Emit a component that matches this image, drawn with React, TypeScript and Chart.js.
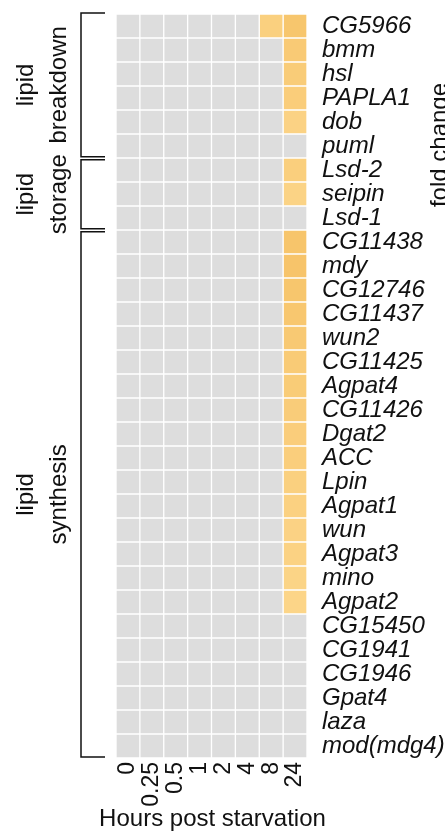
import { useEffect, useRef } from 'react';
import { Chart, registerables } from 'chart.js';

Chart.register(...registerables);

const genes = [
  'CG5966', 'bmm', 'hsl', 'PAPLA1', 'dob', 'puml',
  'Lsd-2', 'seipin', 'Lsd-1',
  'CG11438', 'mdy', 'CG12746', 'CG11437', 'wun2', 'CG11425', 'Agpat4', 'CG11426',
  'Dgat2', 'ACC', 'Lpin', 'Agpat1', 'wun', 'Agpat3', 'mino', 'Agpat2',
  'CG15450', 'CG1941', 'CG1946', 'Gpat4', 'laza', 'mod(mdg4)',
];

const hours = ['0', '0.25', '0.5', '1', '2', '4', '8', '24'];

// log2 fold change per time point (0 = no significant change, drawn grey)
const fc0h = [0, 0, 0, 0, 0, 0, 0, 0, 0, 0, 0, 0, 0, 0, 0, 0, 0, 0, 0, 0, 0, 0, 0, 0, 0, 0, 0, 0, 0, 0, 0];
const fc025h = [0, 0, 0, 0, 0, 0, 0, 0, 0, 0, 0, 0, 0, 0, 0, 0, 0, 0, 0, 0, 0, 0, 0, 0, 0, 0, 0, 0, 0, 0, 0];
const fc05h = [0, 0, 0, 0, 0, 0, 0, 0, 0, 0, 0, 0, 0, 0, 0, 0, 0, 0, 0, 0, 0, 0, 0, 0, 0, 0, 0, 0, 0, 0, 0];
const fc1h = [0, 0, 0, 0, 0, 0, 0, 0, 0, 0, 0, 0, 0, 0, 0, 0, 0, 0, 0, 0, 0, 0, 0, 0, 0, 0, 0, 0, 0, 0, 0];
const fc2h = [0, 0, 0, 0, 0, 0, 0, 0, 0, 0, 0, 0, 0, 0, 0, 0, 0, 0, 0, 0, 0, 0, 0, 0, 0, 0, 0, 0, 0, 0, 0];
const fc4h = [0, 0, 0, 0, 0, 0, 0, 0, 0, 0, 0, 0, 0, 0, 0, 0, 0, 0, 0, 0, 0, 0, 0, 0, 0, 0, 0, 0, 0, 0, 0];
const fc8h = [1.2, 0, 0, 0, 0, 0, 0, 0, 0, 0, 0, 0, 0, 0, 0, 0, 0, 0, 0, 0, 0, 0, 0, 0, 0, 0, 0, 0, 0, 0, 0];
const fc24h = [
  1.55, 1.4, 1.33, 1.3, 1.12, 0,
  1.25, 1.1, 0,
  1.58, 1.6, 1.55, 1.5, 1.44, 1.38, 1.35, 1.32,
  1.29, 1.26, 1.2, 1.16, 1.12, 1.14, 1.08, 1.03,
  0, 0, 0, 0, 0, 0,
];

const foldByHour = [fc0h, fc025h, fc05h, fc1h, fc2h, fc4h, fc8h, fc24h];

const groups = [
  { lines: ['lipid', 'breakdown'], first: 0, last: 5 },
  { lines: ['lipid', 'storage'], first: 6, last: 8 },
  { lines: ['lipid', 'synthesis'], first: 9, last: 30 },
];

const xTitle = 'Hours post starvation';
const legendTitle = 'fold change';

const FONT = '"Liberation Sans", Arial, Helvetica, sans-serif';
const GREY = '#dddddd';
const LOW = [252, 214, 138];
const HIGH = [247, 196, 106];

function cellColor(v: number): string {
  if (!v) return GREY;
  const t = Math.max(0, Math.min(1, (v - 1.0) / 0.6));
  const c = LOW.map((l, i) => Math.round(l + (HIGH[i] - l) * t));
  return `rgb(${c[0]},${c[1]},${c[2]})`;
}

const annotate = {
  id: 'annotate',
  afterDraw(chart: any) {
    const { ctx, chartArea } = chart;
    const y = chart.scales.y;
    const lineX = chartArea.left - 35;
    const tickX = chartArea.left - 11;
    ctx.save();
    ctx.strokeStyle = '#111111';
    ctx.lineWidth = 1.5;
    ctx.fillStyle = '#111111';
    ctx.font = `24px ${FONT}`;
    ctx.textAlign = 'center';
    ctx.textBaseline = 'middle';
    groups.forEach((g, gi) => {
      const top = y.getPixelForValue(g.first - 0.5) + (gi === 0 ? -1 : 1.75);
      const bot = y.getPixelForValue(g.last + 0.5) - (gi === groups.length - 1 ? 1 : 1.25);
      ctx.beginPath();
      ctx.moveTo(tickX, top);
      ctx.lineTo(lineX, top);
      ctx.lineTo(lineX, bot);
      ctx.lineTo(tickX, bot);
      ctx.stroke();
      const mid = (top + bot) / 2;
      [26, 59].forEach((x, i) => {
        ctx.save();
        ctx.translate(x, mid);
        ctx.rotate(-Math.PI / 2);
        ctx.fillText(g.lines[i], 0, 0);
        ctx.restore();
      });
    });
    // x-axis title (drawn without width compression)
    ctx.fillText(xTitle, (chartArea.left + chartArea.right) / 2 + 1, 819);
    // colour-scale title, clipped by the canvas edge as in the original
    ctx.save();
    ctx.textBaseline = 'alphabetic';
    ctx.translate(447, 145);
    ctx.rotate(-Math.PI / 2);
    ctx.fillText(legendTitle, 0, 0);
    ctx.restore();
    ctx.restore();
  },
};

export default function App() {
  const ref = useRef<HTMLCanvasElement | null>(null);

  useEffect(() => {
    if (!ref.current) return;
    const chart = new Chart(ref.current, {
      type: 'bar',
      data: {
        labels: genes,
        datasets: hours.map((h, hi) => ({
          label: h,
          data: genes.map(() => 1),
          backgroundColor: foldByHour[hi].map(cellColor),
          borderColor: '#ffffff',
          borderWidth: 1,
          borderSkipped: false,
          barPercentage: 1,
          categoryPercentage: 1,
        })),
      },
      options: {
        indexAxis: 'y',
        responsive: false,
        animation: false,
        layout: { padding: { left: 116, top: 0, right: 0, bottom: 0 } },
        plugins: { legend: { display: false }, tooltip: { enabled: false } },
        scales: {
          x: { type: 'linear', stacked: true, min: 0, max: hours.length, display: false },
          x2: {
            type: 'category',
            labels: hours,
            position: 'bottom',
            offset: true,
            grid: { display: false, drawTicks: false },
            border: { display: false },
            ticks: {
              autoSkip: false,
              minRotation: 90,
              maxRotation: 90,
              padding: 4,
              color: '#111111',
              font: { family: FONT, size: 23 },
            },
            afterFit: (s: any) => { s.height = 75; s.paddingLeft = 0; s.paddingRight = 0; },
          },
          y: {
            type: 'category',
            position: 'right',
            stacked: true,
            offset: true,
            grid: { display: false, drawTicks: false },
            border: { display: false },
            ticks: {
              autoSkip: false,
              padding: 15,
              color: '#111111',
              font: { family: FONT, size: 24, style: 'italic' },
            },
            afterFit: (s: any) => { s.width = 138; s.paddingTop = 14; s.paddingBottom = 0; },
          },
        },
      },
      plugins: [annotate],
    } as any);
    return () => chart.destroy();
  }, []);

  return (
    <div style={{ position: 'absolute', left: 0, top: 0, width: 445, height: 833, background: '#fff' }}>
      <canvas ref={ref} width={445} height={833} />
    </div>
  );
}
